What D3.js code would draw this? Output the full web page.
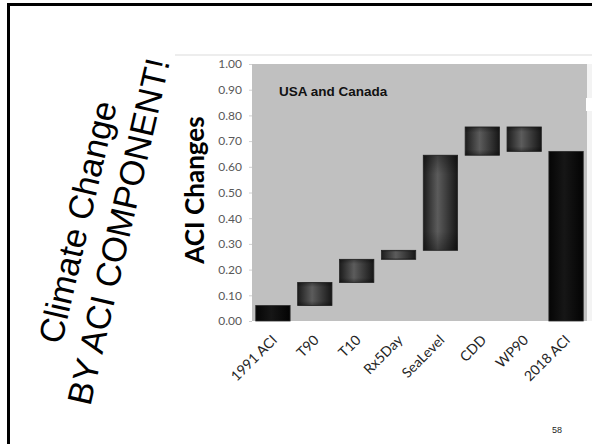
<!DOCTYPE html>
<html>
<head>
<meta charset="utf-8">
<script src="https://cdn.jsdelivr.net/npm/d3@7"></script>
<style>
  html, body { margin: 0; padding: 0; background: #fff; }
  svg { display: block; }
</style>
</head>
<body>
<svg id="chart" width="592" height="444"></svg>
<script>
// Waterfall of ACI component contributions, USA and Canada
const categories = ["1991 ACI", "T90", "T10", "Rx5Day", "SeaLevel", "CDD", "WP90", "2018 ACI"];
const startValue = 0.06;                 // 1991 ACI total
const changes = [0.09, 0.09, 0.035, 0.37, 0.11, -0.095]; // T90 .. WP90
const endValue = 0.66;                   // 2018 ACI total
const yTicks = [0, 0.1, 0.2, 0.3, 0.4, 0.5, 0.6, 0.7, 0.8, 0.9, 1.0];

// build floating segments
const bars = [];
bars.push({ cat: categories[0], lo: 0, hi: startValue, total: true });
let run = startValue;
changes.forEach((c, i) => {
  const next = run + c;
  bars.push({ cat: categories[i + 1], lo: Math.min(run, next), hi: Math.max(run, next), total: false });
  run = next;
});
bars.push({ cat: categories[7], lo: 0, hi: endValue, total: true });

const svg = d3.select("#chart");
const W = 592, H = 444;

// slide frame: black rule on top and left
svg.append("rect").attr("x", 7).attr("y", 3).attr("width", W - 7).attr("height", 3).attr("fill", "#000");
svg.append("rect").attr("x", 7).attr("y", 3).attr("width", 3).attr("height", H - 3).attr("fill", "#000");

// faint rule above the chart
svg.append("rect").attr("x", 175).attr("y", 54).attr("width", W - 175).attr("height", 2).attr("fill", "#ededed");

const plot = { left: 252, right: 587, top: 64, bottom: 321 };

const x = d3.scaleBand().domain(categories).range([plot.left, plot.right]).paddingInner(0.18).paddingOuter(0.09);
const y = d3.scaleLinear().domain([0, 1]).range([plot.bottom, plot.top]);

const defs = svg.append("defs");
const gMid = defs.append("linearGradient").attr("id", "gMid").attr("x1", "0").attr("x2", "1").attr("y1", "0").attr("y2", "0");
gMid.append("stop").attr("offset", "0%").attr("stop-color", "#1c1c1c");
gMid.append("stop").attr("offset", "42%").attr("stop-color", "#5c5c5c");
gMid.append("stop").attr("offset", "100%").attr("stop-color", "#161616");
const gTot = defs.append("linearGradient").attr("id", "gTot").attr("x1", "0").attr("x2", "1").attr("y1", "0").attr("y2", "0");
gTot.append("stop").attr("offset", "0%").attr("stop-color", "#050505");
gTot.append("stop").attr("offset", "45%").attr("stop-color", "#161616");
gTot.append("stop").attr("offset", "100%").attr("stop-color", "#030303");
const gShade = defs.append("linearGradient").attr("id", "gShade").attr("x1", "0").attr("x2", "0").attr("y1", "0").attr("y2", "1");
gShade.append("stop").attr("offset", "0%").attr("stop-color", "#000").attr("stop-opacity", 0.35);
gShade.append("stop").attr("offset", "20%").attr("stop-color", "#000").attr("stop-opacity", 0);
gShade.append("stop").attr("offset", "80%").attr("stop-color", "#000").attr("stop-opacity", 0);
gShade.append("stop").attr("offset", "100%").attr("stop-color", "#000").attr("stop-opacity", 0.35);

// plot background
svg.append("rect")
  .attr("x", plot.left).attr("y", plot.top)
  .attr("width", plot.right - plot.left).attr("height", plot.bottom - plot.top)
  .attr("fill", "#c0c0c0");
// small white notch at the right edge
svg.append("rect").attr("x", 587).attr("y", 64).attr("width", 5).attr("height", 257).attr("fill", "#f3f3f3");
svg.append("rect").attr("x", 586).attr("y", 98).attr("width", 6).attr("height", 13).attr("fill", "#fff");

// y axis
const yAxis = d3.axisLeft(y).tickValues(yTicks).tickFormat(d3.format(".2f")).tickSize(3).tickPadding(7);
const ya = svg.append("g").attr("transform", `translate(${plot.left},0)`).call(yAxis);
ya.select(".domain").remove();
ya.selectAll(".tick line").attr("stroke", "#d0d0d0");
ya.selectAll(".tick text").attr("fill", "#595959").attr("font-family", "Lato, 'Open Sans', sans-serif").attr("font-size", 12);

// bars
const barG = svg.append("g");
barG.selectAll("rect.bar").data(bars).enter().append("rect")
  .attr("class", "bar")
  .attr("x", d => x(d.cat)).attr("width", x.bandwidth())
  .attr("y", d => y(d.hi)).attr("height", d => y(d.lo) - y(d.hi))
  .attr("fill", d => d.total ? "url(#gTot)" : "url(#gMid)")
  .attr("stroke", "#2a2a2a").attr("stroke-width", 0.8);
barG.selectAll("rect.shade").data(bars.filter(d => !d.total)).enter().append("rect")
  .attr("class", "shade")
  .attr("x", d => x(d.cat)).attr("width", x.bandwidth())
  .attr("y", d => y(d.hi)).attr("height", d => y(d.lo) - y(d.hi))
  .attr("fill", "url(#gShade)");

// x axis labels
const xAxis = d3.axisBottom(x).tickSize(0).tickPadding(0);
const xa = svg.append("g").attr("transform", `translate(0,${plot.bottom})`).call(xAxis);
xa.select(".domain").remove();
xa.selectAll(".tick text")
  .attr("fill", "#262626")
  .attr("font-family", "Lato, 'Open Sans', sans-serif")
  .attr("font-size", 14)
  .attr("text-anchor", "end")
  .attr("dy", 0)
  .attr("transform", "translate(5,20) rotate(-45)");

// chart caption
svg.append("text").attr("x", 279).attr("y", 96)
  .attr("font-family", "'Liberation Sans', Arial, sans-serif").attr("font-weight", "bold")
  .attr("font-size", 13.5).attr("fill", "#111").text("USA and Canada");

// y axis title
svg.append("text")
  .attr("transform", "translate(204,190) rotate(-90)")
  .attr("text-anchor", "middle")
  .attr("font-family", "Lato, 'Open Sans', sans-serif").attr("font-weight", "bold")
  .attr("font-size", 26).attr("fill", "#000").text("ACI Changes");

// slanted slide title
const title = svg.append("g").attr("transform", "translate(99,227) rotate(-77)")
  .attr("font-family", "'Liberation Sans', Arial, sans-serif").attr("font-size", 34.5).attr("fill", "#000")
  .attr("text-anchor", "middle");
title.append("text").attr("x", 0).attr("y", -10).text("Climate Change");
title.append("text").attr("x", 0).attr("y", 32).text("BY ACI COMPONENT!");

// page number
svg.append("text").attr("x", 552).attr("y", 433)
  .attr("font-family", "'Liberation Sans', Arial, sans-serif").attr("font-size", 9).attr("fill", "#222").text("58");
</script>
</body>
</html>
